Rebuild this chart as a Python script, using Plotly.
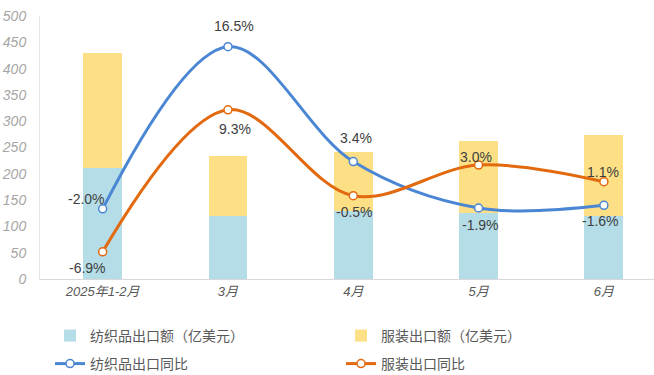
import plotly.graph_objects as go

categories = ["2025年1-2月", "3月", "4月", "5月", "6月"]
textile_export = [211, 120, 129, 125, 120]
apparel_export = [219, 114, 112, 137, 154]
textile_yoy = [-2.0, 16.5, 3.4, -1.9, -1.6]
apparel_yoy = [-6.9, 9.3, -0.5, 3.0, 1.1]

# label offsets in px (dx, dy with dy up positive)
textile_label_shift = [(-16, 10), (6, 21), (3, 24), (2, -17), (-3, -16)]
apparel_label_shift = [(-15, -16), (7, -19), (1, -16), (-3, 8), (-1, 10)]

FONT = "Liberation Sans, Noto Sans CJK SC, sans-serif"
BLUE = "#4a86d4"
ORANGE = "#e2690e"

fig = go.Figure()
fig.add_trace(go.Bar(x=categories, y=textile_export, name="纺织品出口额（亿美元）",
                     marker=dict(color="#b5dde7", line_width=0), width=0.31, legend="legend"))
fig.add_trace(go.Bar(x=categories, y=apparel_export, name="服装出口额（亿美元）",
                     marker=dict(color="#fde085", line_width=0), width=0.31, legend="legend"))
fig.add_trace(go.Scatter(x=categories, y=textile_yoy, name="纺织品出口同比", yaxis="y2",
                         mode="lines+markers",
                         line=dict(color=BLUE, width=3, shape="spline", smoothing=1.0),
                         marker=dict(size=8, color="white", line=dict(color=BLUE, width=1.5)),
                         legend="legend2"))
fig.add_trace(go.Scatter(x=categories, y=apparel_yoy, name="服装出口同比", yaxis="y2",
                         mode="lines+markers",
                         line=dict(color=ORANGE, width=3, shape="spline", smoothing=1.0),
                         marker=dict(size=8, color="white", line=dict(color=ORANGE, width=1.5)),
                         legend="legend2"))

annotations = []
for vals, shifts in ((textile_yoy, textile_label_shift), (apparel_yoy, apparel_label_shift)):
    for c, v, (dx, dy) in zip(categories, vals, shifts):
        annotations.append(dict(x=c, y=v, xref="x", yref="y2", text=f"{v:.1f}%",
                                showarrow=False, xshift=dx, yshift=dy,
                                font=dict(size=14, color="#404040", family=FONT)))

fig.update_layout(
    width=654, height=375,
    margin=dict(l=40, r=0, t=16, b=96, autoexpand=False),
    barmode="stack",
    plot_bgcolor="white", paper_bgcolor="white",
    font=dict(family=FONT, color="#555555"),
    showlegend=True,
    annotations=annotations,
    xaxis=dict(range=[-0.5, 4.4], showline=True, linecolor="#d9d9d9", linewidth=1,
               automargin=False,
               ticks="", tickfont=dict(size=13, color="#595959", style="italic")),
    yaxis=dict(range=[0, 500], dtick=50, showgrid=False, showline=True, linecolor="#e6e6e6",
               automargin=False, ticklabelstandoff=10,
               zeroline=False, ticks="", tickfont=dict(size=14, color="#a6a6a6", style="italic")),
    yaxis2=dict(range=[-10, 20], overlaying="y", side="right", visible=False, showgrid=False),
    legend=dict(orientation="h", xref="container", yref="container", x=0.0765, y=0.1467,
                xanchor="left", yanchor="top",
                entrywidth=246, font=dict(size=14, color="#595959"), itemwidth=30,
                traceorder="normal", bgcolor="rgba(0,0,0,0)"),
    legend2=dict(orientation="h", xref="container", yref="container", x=0.0765, y=0.072,
                 xanchor="left", yanchor="top",
                 entrywidth=246, font=dict(size=14, color="#595959"), itemwidth=30,
                 traceorder="normal", bgcolor="rgba(0,0,0,0)"),
)

fig.write_html("out.html", config={"displayModeBar": False},
               post_script="document.body.style.margin='0';document.body.style.overflow='hidden';")
